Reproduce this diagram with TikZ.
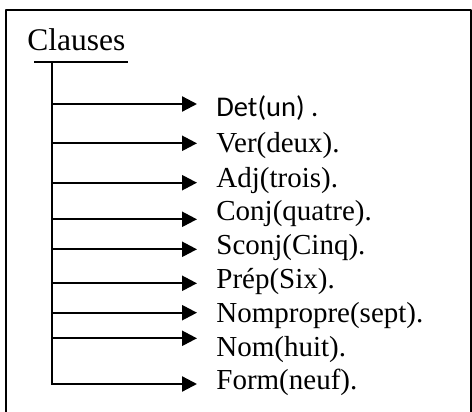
\documentclass[tikz,border=0pt]{standalone}
\usepackage{fontspec}
\setmainfont{Liberation Serif}
\newfontfamily\detfont{Carlito}
\usetikzlibrary{arrows.meta}

\begin{document}
\begin{tikzpicture}[x=0.5pt, y=-0.5pt, line join=round]
\useasboundingbox (0,0) rectangle (472,412);
\tikzset{branch/.style={line width=1.15pt, line cap=rect, -{Triangle[length=7.5pt, width=7.5pt]}},
         lbl/.style={inner sep=0pt, anchor=base west, font=\fontsize{14.5}{17}\selectfont}}
% frame, open at the bottom
\draw[line width=0.85pt] (6,412) -- (6,10) -- (471,10) -- (471,412);
\node[inner sep=0pt, anchor=base west, font=\fontsize{15.75}{19}\selectfont] (clauses) at (27,50.7) {Clauses};
\coordinate (ul1) at (34,62);
\coordinate (ul2) at (128,62);
\draw[line width=1.15pt] (ul1) -- (ul2);
\coordinate (top) at (52.3,62);
\coordinate (bot) at (52.3,384);
\draw[line width=1.15pt, line cap=rect] (top) -- (bot);
% first branch
\coordinate (s0) at (52.3,104);
\coordinate (e0) at (197,104);
\draw[branch] (s0) -- (e0);
\node[lbl, font=\detfont\fontsize{14.25}{17}\selectfont] (lbl0) at (216,116.7) {Det(un) .};
% the other branches
\foreach \ay/\by/\txt [count=\i] in {143.3/152.7/{Ver(deux).}, 182.7/187.3/{Adj(trois).},
    219.3/220.7/{Conj(quatre).}, 249.3/254/{Sconj(Cinq).}, 283.3/288/{Prép(Six).},
    312.7/322.7/{Nompropre(sept).}, 338.3/356/{Nom(huit).}, 384/389/{Form(neuf).}}{
  \coordinate (s\i) at (52.3,\ay);
  \coordinate (e\i) at (197,\ay);
  \draw[branch] (s\i) -- (e\i);
  \node[lbl] (lbl\i) at (216,\by) {\txt};
}
\end{tikzpicture}
\end{document}
